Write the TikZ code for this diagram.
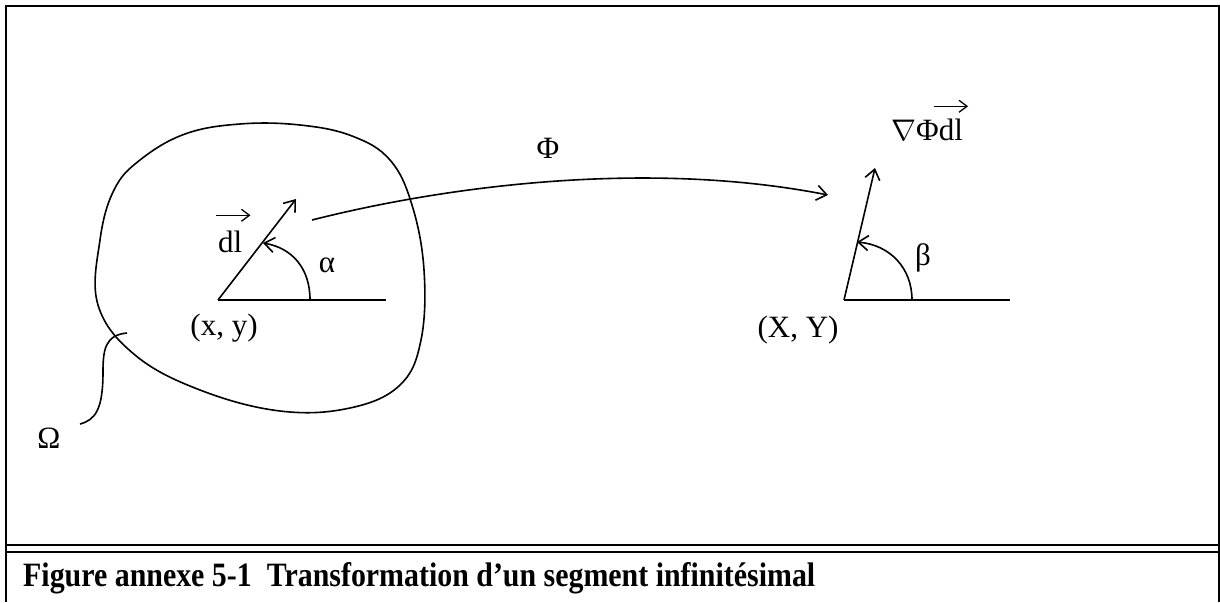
\documentclass[tikz,border=0pt]{standalone}
\usepackage{graphicx}
\usepackage{fontspec}
\setmainfont{Liberation Serif}
\usetikzlibrary{arrows.meta}
\begin{document}
\begin{tikzpicture}[x=1pt,y=-1pt,
  lbl/.style={font=\fontsize{31}{37}\selectfont, inner sep=0pt},
  ln/.style={line width=1.6pt},
  arr/.style={ln,-{Straight Barb[length=10pt,width=15pt,line width=1.6pt]}},
  vec/.style={line width=1.3pt,-{Straight Barb[length=8pt,width=12pt,line width=1.3pt]}},
  frame/.style={line width=1.8pt}]
\useasboundingbox (0,0) rectangle (1220,602);
% frame
\draw[frame] (6,602) -- (6,6) -- (1219,6) -- (1219,602);
\draw[frame] (6,545) -- (1219,545);
\draw[frame] (6,552) -- (1219,552);
\node[anchor=base west, inner sep=0pt] (cap) at (23,586)
  {\resizebox{792pt}{24pt}{\bfseries Figure annexe 5-1\ \ Transformation d’un segment infinitésimal}};
% domain
\draw[ln] plot[smooth cycle, tension=0.65] coordinates {(140,160) (185,134) (240,124) (300,125) (352,136) (390,160) (412,205) (424,270) (421,340) (400,385) (350,408) (280,411) (200,390) (135,355) (98,305) (100,240) (114,190)};
% labels
\node[lbl] (omega) at (49,438) {Ω};
\coordinate (omstart) at (127,333);
\coordinate (omend) at (80,424);
\draw[ln] (omstart) .. controls (105,335) and (103,350) .. (103,372) .. controls (103,410) and (95,420) .. (omend);
% left angle
\coordinate (v1) at (218,300);
\coordinate (h1) at (386,300);
\coordinate (t1) at (296,199);
\coordinate (a1s) at (310,300);
\coordinate (a1e) at (263,243);
\draw[ln] (v1) -- (h1);
\draw[arr] (v1) -- (t1);
\draw[arr] (a1s) .. controls (310,268) and (292,248) .. (a1e);
\node[lbl] (alpha) at (327,265) {α};
\node[lbl] (xy) at (224,328) {(x, y)};
\node[lbl, anchor=base west] (dl) at (218,252) {dl};
\draw[vec] ([shift={(-2pt,15pt)}]dl.north west) -- ([shift={(8pt,15pt)}]dl.north east);
% right angle
\coordinate (v2) at (844,300);
\coordinate (h2) at (1010,300);
\coordinate (t2) at (875,168);
\coordinate (a2s) at (912,300);
\coordinate (a2e) at (857,242);
\draw[ln] (v2) -- (h2);
\draw[arr] (v2) -- (t2);
\draw[arr] (a2s) .. controls (912,268) and (890,245) .. (a2e);
\node[lbl] (beta) at (923,258) {β};
\node[lbl] (XY) at (798,330) {(X, Y)};
\node[lbl, anchor=base west] (gdl) at (891,140) {\scalebox{1.2}{$\nabla$}Φdl};
\draw[vec] ([shift={(-29pt,12pt)}]gdl.north east) -- ([shift={(5pt,12pt)}]gdl.north east);
% mapping
\coordinate (ms) at (312,220);
\coordinate (me) at (828,195);
\draw[arr] (ms) .. controls (450,185) and (650,160) .. (me);
\node[lbl] (phi) at (548,148) {Φ};
\end{tikzpicture}
\end{document}
